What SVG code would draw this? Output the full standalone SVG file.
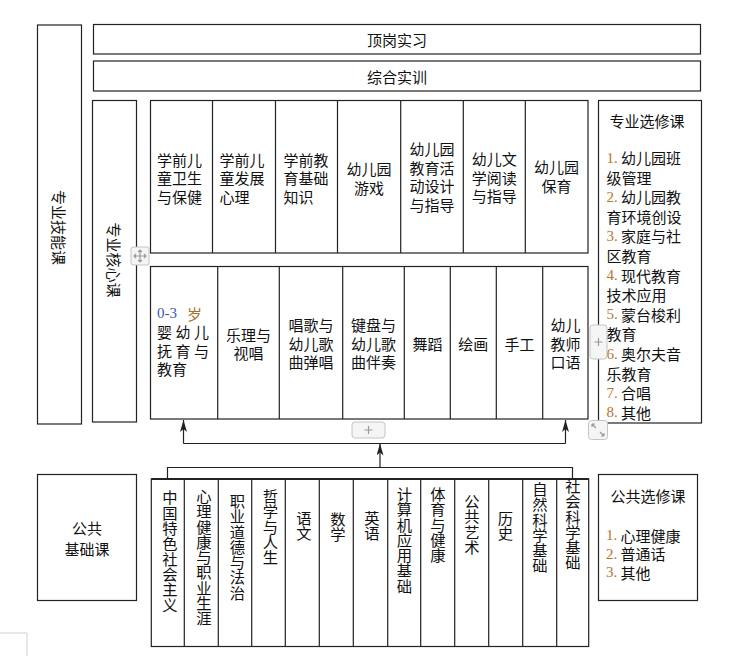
<svg xmlns="http://www.w3.org/2000/svg" width="756" height="656" viewBox="0 0 756 656">
<defs>
<style>
.box{fill:#fff;stroke:#222;stroke-width:1.2}
.cl{stroke:#222;stroke-width:1.2;fill:none}
.t{font-family:"Noto Sans CJK SC","Noto Sans CJK JP",sans-serif;font-size:15px;fill:#111;dominant-baseline:central}
.c{text-anchor:middle}
.v{writing-mode:vertical-rl;font-size:15.3px}
.num{font-family:"Liberation Serif",serif;fill:#b8742c}
.blu{font-family:"Liberation Serif",serif;fill:#3a58b8}
.ui{fill:#f5f5f5;stroke:#c4c4c4;stroke-width:1}
.uil{stroke:#999;stroke-width:1.2;fill:none}
</style>
<marker id="ah" viewBox="0 0 12 7" refX="12" refY="3.5" markerWidth="12" markerHeight="7" markerUnits="userSpaceOnUse" orient="auto">
<path d="M0,0 L12,3.5 L0,7 L3,3.5 Z" fill="#222"/>
</marker>
</defs>
<rect width="756" height="656" fill="#fff"/>

<g id="skill">
<rect class="box" x="37.5" y="25" width="44" height="399"/>
<text class="t c" transform="translate(59,227.5) rotate(90)">专业技能课</text>
</g>

<g id="internship">
<rect class="box" x="93.5" y="24.5" width="607" height="29.5"/>
<text class="t c" x="397" y="39.5">顶岗实习</text>
</g>

<g id="training">
<rect class="box" x="93.5" y="61" width="607" height="30"/>
<text class="t c" x="397" y="76">综合实训</text>
</g>

<g id="core-label">
<rect class="box" x="92.5" y="100.5" width="44" height="321.5"/>
<text class="t c" transform="translate(114.5,260) rotate(90)">专业核心课</text>
</g>

<g id="core-top">
<rect class="box" x="150.5" y="100.5" width="437.5" height="152.5"/>
<path class="cl" d="M212.5,100.5V253 M275.5,100.5V253 M337.5,100.5V253 M400.7,100.5V253 M463.3,100.5V253 M525.3,100.5V253"/>
<text class="t" x="157" y="159">学前儿</text>
<text class="t" x="157" y="177.5">童卫生</text>
<text class="t" x="157" y="196">与保健</text>
<text class="t" x="219.5" y="159">学前儿</text>
<text class="t" x="219.5" y="177.5">童发展</text>
<text class="t" x="219.5" y="196">心理</text>
<text class="t" x="283.5" y="159">学前教</text>
<text class="t" x="283.5" y="177.5">育基础</text>
<text class="t" x="283.5" y="196">知识</text>
<text class="t c" x="369" y="168.5">幼儿园</text>
<text class="t c" x="369" y="187">游戏</text>
<text class="t c" x="432" y="148.5">幼儿园</text>
<text class="t c" x="432" y="167">教育活</text>
<text class="t c" x="432" y="185.5">动设计</text>
<text class="t c" x="432" y="204">与指导</text>
<text class="t c" x="494.3" y="158.5">幼儿文</text>
<text class="t c" x="494.3" y="177">学阅读</text>
<text class="t c" x="494.3" y="195.5">与指导</text>
<text class="t c" x="556.5" y="166.5">幼儿园</text>
<text class="t c" x="556.5" y="185">保育</text>
</g>

<g id="core-bottom">
<rect class="box" x="150.5" y="266.5" width="437.5" height="152.5"/>
<path class="cl" d="M217.7,266.5V419 M279.3,266.5V419 M342.7,266.5V419 M404.3,266.5V419 M450.3,266.5V419 M496.3,266.5V419 M542.7,266.5V419"/>
<text class="t" x="157" y="313"><tspan class="blu">0-3</tspan></text>
<text class="t" x="187" y="313" fill="#a8702a" style="fill:#a8702a">岁</text>
<text class="t" x="157 175.5 194" y="331.5">婴幼儿</text>
<text class="t" x="157 175.5 194" y="350">抚育与</text>
<text class="t" x="157" y="368.5">教育</text>
<text class="t c" x="248.5" y="334">乐理与</text>
<text class="t c" x="248.5" y="352.5">视唱</text>
<text class="t c" x="311" y="324.5">唱歌与</text>
<text class="t c" x="311" y="343">幼儿歌</text>
<text class="t c" x="311" y="361.5">曲弹唱</text>
<text class="t c" x="373.5" y="324.5">键盘与</text>
<text class="t c" x="373.5" y="343">幼儿歌</text>
<text class="t c" x="373.5" y="361.5">曲伴奏</text>
<text class="t c" x="427.5" y="343">舞蹈</text>
<text class="t c" x="473.3" y="343">绘画</text>
<text class="t c" x="519.5" y="343">手工</text>
<text class="t c" x="565.5" y="324.5">幼儿</text>
<text class="t c" x="565.5" y="343">教师</text>
<text class="t c" x="565.5" y="361.5">口语</text>
</g>

<g id="major-elective">
<rect class="box" x="598.5" y="100.5" width="103" height="322.5"/>
<text class="t c" x="647" y="120.5">专业选修课</text>
<text class="t" x="606.5" y="157.5"><tspan class="num">1.</tspan> 幼儿园班</text>
<text class="t" x="606.5" y="177.1">级管理</text>
<text class="t" x="606.5" y="196.7"><tspan class="num">2.</tspan> 幼儿园教</text>
<text class="t" x="606.5" y="216.3">育环境创设</text>
<text class="t" x="606.5" y="235.9"><tspan class="num">3.</tspan> 家庭与社</text>
<text class="t" x="606.5" y="255.5">区教育</text>
<text class="t" x="606.5" y="275.1"><tspan class="num">4.</tspan> 现代教育</text>
<text class="t" x="606.5" y="294.7">技术应用</text>
<text class="t" x="606.5" y="314.3"><tspan class="num">5.</tspan> 蒙台梭利</text>
<text class="t" x="606.5" y="333.9">教育</text>
<text class="t" x="606.5" y="353.5"><tspan class="num">6.</tspan> 奥尔夫音</text>
<text class="t" x="606.5" y="373.1">乐教育</text>
<text class="t" x="606.5" y="392.7"><tspan class="num">7.</tspan> 合唱</text>
<text class="t" x="606.5" y="412.3"><tspan class="num">8.</tspan> 其他</text>
</g>

<g id="public-basic">
<rect class="box" x="37.5" y="474.5" width="99" height="126"/>
<text class="t c" x="87" y="527">公共</text>
<text class="t c" x="87" y="548">基础课</text>
</g>

<g id="public-courses">
<rect class="box" x="151.3" y="479" width="437.4" height="167.5"/>
<line x1="151.3" y1="479" x2="588.7" y2="479" stroke="#222" stroke-width="2.2"/>
<path class="cl" d="M184.3,479V646.5 M218.3,479V646.5 M251.7,479V646.5 M285.3,479V646.5 M319.3,479V646.5 M353.3,479V646.5 M387.7,479V646.5 M420.7,479V646.5 M454.7,479V646.5 M488.7,479V646.5 M522.7,479V646.5 M556.7,479V646.5"/>
<text class="t v" x="170" y="490">中国特色社会主义</text>
<text class="t v" x="204" y="488.5">心理健康与职业生涯</text>
<text class="t v" x="237.5" y="493.5">职业道德与法治</text>
<text class="t v" x="270.5" y="488.5">哲学与人生</text>
<text class="t v" x="304" y="510.5">语文</text>
<text class="t v" x="338" y="511.5">数学</text>
<text class="t v" x="372" y="510.5">英语</text>
<text class="t v" x="404.5" y="486.5">计算机应用基础</text>
<text class="t v" x="438" y="486.5">体育与健康</text>
<text class="t v" x="472" y="493.5">公共艺术</text>
<text class="t v" x="505.5" y="510.5">历史</text>
<text class="t v" x="540" y="481.5">自然科学基础</text>
<text class="t v" x="573" y="478.5">社会科学基础</text>
</g>

<g id="public-elective">
<rect class="box" x="598.5" y="474.5" width="99" height="126"/>
<text class="t c" x="648" y="495">公共选修课</text>
<text class="t" x="606" y="535"><tspan class="num">1.</tspan> 心理健康</text>
<text class="t" x="606" y="553.5"><tspan class="num">2.</tspan> 普通话</text>
<text class="t" x="606" y="572"><tspan class="num">3.</tspan> 其他</text>
</g>

<g id="connectors">
<path class="cl" d="M167.5,478V467.5H572.5V478"/>
<line class="cl" x1="380" y1="467.5" x2="380" y2="443.5" marker-end="url(#ah)"/>
<line class="cl" x1="183.5" y1="443.5" x2="565.5" y2="443.5"/>
<line class="cl" x1="183.5" y1="443.5" x2="183.5" y2="420" marker-end="url(#ah)"/>
<line class="cl" x1="565.5" y1="443.5" x2="565.5" y2="420" marker-end="url(#ah)"/>
</g>

<g id="editor-handles">
<rect class="ui" x="131" y="247" width="18" height="18" rx="2"/>
<path class="uil" d="M140,250V262 M134,256H146 M138,252L140,250L142,252 M138,260L140,262L142,260 M136,254L134,256L136,258 M144,254L146,256L144,258"/>
<rect class="ui" x="352" y="422" width="33" height="16" rx="3"/>
<path class="uil" d="M364.5,430H372.5 M368.5,426V434"/>
<rect class="ui" x="590" y="325" width="17" height="34" rx="3"/>
<path class="uil" d="M594.5,342H602.5 M598.5,338V346"/>
<rect class="ui" x="588.5" y="420.5" width="19" height="19" rx="3"/>
<path class="uil" d="M592,424L596,428 M592,424H595 M592,424V427 M604,436L600,432 M604,436H601 M604,436V433"/>
<path d="M0,633H27V656" fill="none" stroke="#d0d0d0" stroke-width="1"/>
</g>
</svg>
